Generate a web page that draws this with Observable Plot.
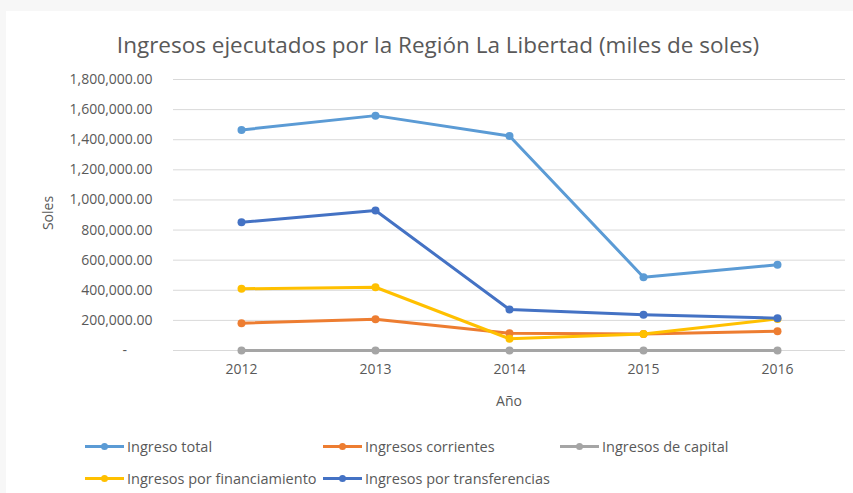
<!DOCTYPE html>
<html>
<head>
<meta charset="utf-8">
<script src="https://cdn.jsdelivr.net/npm/d3@7"></script>
<script src="https://cdn.jsdelivr.net/npm/@observablehq/plot@0.6"></script>
<style>
  body { margin:0; background:#f7f7f7; font-family:"Open Sans", sans-serif; color:#595959; }
  #wrap { position:relative; width:853px; height:493px; overflow:hidden; }
  #card { position:absolute; left:6px; top:11px; width:847px; height:482px; background:#fff; }
  #title { position:absolute; left:0; top:44px; width:876px; text-align:center; font-size:22.5px; color:#595959; white-space:nowrap; transform:translateY(-50%); }
  #chart { position:absolute; left:0; top:60px; }
  #ylab { position:absolute; left:47px; top:213px; transform:translate(-50%,-50%) rotate(-90deg); font-size:14px; white-space:nowrap; }
  #xlab { position:absolute; left:509px; top:400px; transform:translate(-50%,-50%); font-size:14px; white-space:nowrap; }
  .leg { position:absolute; display:flex; align-items:center; font-size:14.5px; white-space:nowrap; transform:translateY(-50%); }
  .leg svg { margin-right:3px; }
</style>
</head>
<body>
<div id="wrap">
  <div id="card"></div>
  <div id="title">Ingresos ejecutados por la Región La Libertad (miles de soles)</div>
  <div id="chart"></div>
  <div id="ylab">Soles</div>
  <div id="xlab">Año</div>
  <div id="legend"></div>
</div>
<script>
const years = [2012, 2013, 2014, 2015, 2016];
const seriesNames = ["Ingreso total", "Ingresos corrientes", "Ingresos de capital", "Ingresos por financiamiento", "Ingresos por transferencias"];
const ingresoTotal = [1465000, 1560000, 1425000, 487000, 569000];
const ingresosCorrientes = [181000, 208000, 115000, 110000, 128000];
const ingresosCapital = [0, 0, 0, 0, 0];
const ingresosFinanciamiento = [410000, 420000, 78000, 110000, 210000];
const ingresosTransferencias = [852000, 930000, 272000, 237000, 215000];
const colors = ["#5B9BD5", "#ED7D31", "#A5A5A5", "#FFC000", "#4472C4"];
const yTicks = [0, 200000, 400000, 600000, 800000, 1000000, 1200000, 1400000, 1600000, 1800000];

const allValues = [ingresoTotal, ingresosCorrientes, ingresosCapital, ingresosFinanciamiento, ingresosTransferencias];
const data = [];
seriesNames.forEach((s, i) => years.forEach((y, j) => data.push({series: s, year: y, value: allValues[i][j]})));

const fmt = d3.format(",.2f");
const marks = [
  Plot.gridY(yTicks, {stroke: "#d9d9d9", strokeOpacity: 1, strokeWidth: 1}),
  Plot.axisY(yTicks, {tickSize: 0, tickPadding: 21, tickFormat: d => d === 0 ? "-       " : fmt(d), label: null, fill: "#595959"}),
  Plot.axisX({tickSize: 0, tickPadding: 14, tickFormat: d => String(d), label: null, fill: "#595959"})
];
seriesNames.forEach(s => {
  const sub = data.filter(d => d.series === s);
  marks.push(Plot.line(sub, {x: "year", y: "value", stroke: "series", strokeWidth: 3, strokeLinejoin: "round"}));
  marks.push(Plot.dot(sub, {x: "year", y: "value", fill: "series", r: 4}));
});

const chart = Plot.plot({
  width: 853,
  height: 350,
  marginLeft: 173,
  marginRight: 8,
  marginTop: 19,
  marginBottom: 60,
  style: {fontFamily: "Open Sans", fontSize: "14px", color: "#595959", background: "transparent"},
  x: {type: "point", domain: years, padding: 0.5},
  y: {domain: [0, 1800000]},
  color: {domain: seriesNames, range: colors},
  marks
});
document.getElementById("chart").appendChild(chart);

const legendPos = [[85, 446], [323, 446], [560, 446], [85, 478], [323, 478]];
const legend = document.getElementById("legend");
seriesNames.forEach((s, i) => {
  const div = document.createElement("div");
  div.className = "leg";
  div.style.left = legendPos[i][0] + "px";
  div.style.top = legendPos[i][1] + "px";
  div.innerHTML = `<svg width="39" height="10"><line x1="0" y1="5" x2="39" y2="5" stroke="${colors[i]}" stroke-width="3"/><circle cx="19.5" cy="5" r="3.5" fill="${colors[i]}"/></svg><span>${s}</span>`;
  legend.appendChild(div);
});
</script>
</body>
</html>
